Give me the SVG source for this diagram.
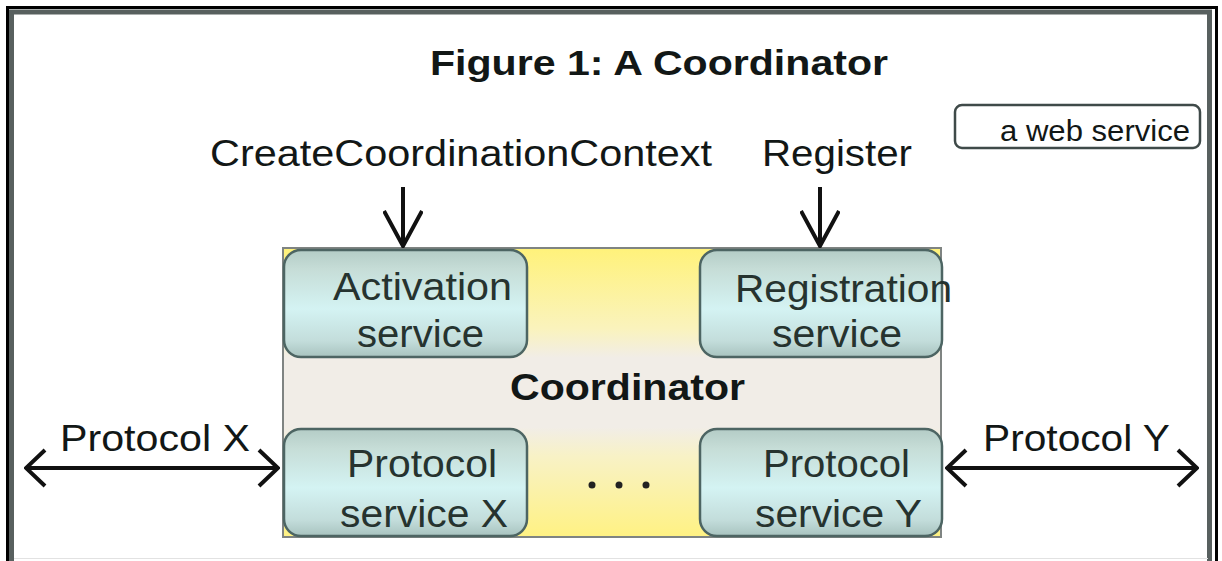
<svg xmlns="http://www.w3.org/2000/svg" width="1222" height="561" viewBox="0 0 1222 561">
  <style>
    .lbl { font-family: "Liberation Sans", Arial, sans-serif; fill: #121716; }
    .svc { font-family: "Liberation Sans", Arial, sans-serif; font-size: 38px; fill: #26332f; }
    .bold { font-weight: bold; }
    .svcbox { fill: url(#svcFill); stroke: #4d6563; stroke-width: 2.5; }
    .flow { stroke: #111; stroke-width: 4; fill: none; }
  </style>
  <defs>
    <linearGradient id="svcFill" x1="0" y1="0" x2="0" y2="1">
      <stop offset="0" stop-color="#b4ccc6"/>
      <stop offset="0.18" stop-color="#c6ddd7"/>
      <stop offset="0.55" stop-color="#d4f3f3"/>
      <stop offset="0.85" stop-color="#c3dddb"/>
      <stop offset="1" stop-color="#a8c3bf"/>
    </linearGradient>
    <linearGradient id="coordFill" x1="0" y1="0" x2="0" y2="1">
      <stop offset="0" stop-color="#fff27a"/>
      <stop offset="0.28" stop-color="#faf3bd"/>
      <stop offset="0.38" stop-color="#f1ede7"/>
      <stop offset="0.62" stop-color="#f1ede7"/>
      <stop offset="0.72" stop-color="#f8f2c6"/>
      <stop offset="1" stop-color="#fff283"/>
    </linearGradient>
    <!-- narrow open chevron for the vertical calls -->
    <marker id="headNarrow" viewBox="0 0 40 40" refX="38" refY="20" markerWidth="40" markerHeight="40" markerUnits="userSpaceOnUse" orient="auto-start-reverse">
      <path d="M3,1 L38,20 L3,39" fill="none" stroke="#111" stroke-width="4"/>
    </marker>
    <!-- wide open chevron for the protocol links -->
    <marker id="headWide" viewBox="0 0 40 40" refX="38" refY="20" markerWidth="40" markerHeight="40" markerUnits="userSpaceOnUse" orient="auto-start-reverse">
      <path d="M19,2 L38,20 L19,38" fill="none" stroke="#111" stroke-width="4"/>
    </marker>
  </defs>

  <!-- page -->
  <rect x="0" y="0" width="1222" height="561" fill="#ffffff"/>
  <!-- frame: black outline with a slate inner rule -->
  <g id="frame">
    <rect x="11.5" y="12" width="1198" height="600" fill="none" stroke="#58605f" stroke-width="5"/>
    <rect x="7.5" y="7.5" width="1209" height="600" fill="none" stroke="#000" stroke-width="3"/>
    <line x1="14" y1="558.5" x2="1208" y2="558.5" stroke="#e2e2e2" stroke-width="1"/>
  </g>

  <g id="title">
    <text class="lbl bold" x="430" y="75" font-size="35" textLength="458" lengthAdjust="spacingAndGlyphs">Figure 1: A Coordinator</text>
  </g>

  <g id="legend">
    <rect x="955" y="105" width="245" height="43" rx="7" fill="#fff" stroke="#3f4a49" stroke-width="2.5"/>
    <text class="lbl" x="1000" y="141" font-size="29" textLength="190" lengthAdjust="spacingAndGlyphs">a web service</text>
  </g>

  <g id="coordinator">
    <rect x="283" y="248" width="658" height="289" fill="url(#coordFill)" stroke="#7f8482" stroke-width="2"/>
    <text class="lbl bold" x="510" y="400" font-size="37" textLength="235" lengthAdjust="spacingAndGlyphs">Coordinator</text>
  </g>

  <g id="activation">
    <rect class="svcbox" x="284" y="250" width="243" height="107" rx="17"/>
    <text class="svc" x="333" y="300" textLength="179" lengthAdjust="spacingAndGlyphs">Activation</text>
    <text class="svc" x="357" y="347" textLength="127" lengthAdjust="spacingAndGlyphs">service</text>
  </g>

  <g id="registration">
    <rect class="svcbox" x="700" y="250" width="242" height="107" rx="17"/>
    <text class="svc" x="735" y="302" textLength="217" lengthAdjust="spacingAndGlyphs">Registration</text>
    <text class="svc" x="772" y="347" textLength="130" lengthAdjust="spacingAndGlyphs">service</text>
  </g>

  <g id="protocolX">
    <rect class="svcbox" x="284" y="429" width="243" height="107" rx="17"/>
    <text class="svc" x="347" y="477" textLength="150" lengthAdjust="spacingAndGlyphs">Protocol</text>
    <text class="svc" x="340" y="527" textLength="168" lengthAdjust="spacingAndGlyphs">service X</text>
  </g>

  <g id="protocolY">
    <rect class="svcbox" x="700" y="429" width="242" height="107" rx="17"/>
    <text class="svc" x="763" y="477" textLength="147" lengthAdjust="spacingAndGlyphs">Protocol</text>
    <text class="svc" x="755" y="527" textLength="167" lengthAdjust="spacingAndGlyphs">service Y</text>
  </g>

  <g id="more">
    <circle cx="592" cy="485" r="3.5" fill="#222"/>
    <circle cx="619" cy="485" r="3.5" fill="#222"/>
    <circle cx="646" cy="485" r="3.5" fill="#222"/>
  </g>

  <g id="connectors">
    <line class="flow" x1="403" y1="187" x2="403" y2="246" marker-end="url(#headNarrow)"/>
    <line class="flow" x1="820" y1="187" x2="820" y2="246" marker-end="url(#headNarrow)"/>
    <line class="flow" x1="26" y1="468" x2="278" y2="468" marker-start="url(#headWide)" marker-end="url(#headWide)"/>
    <line class="flow" x1="947" y1="468" x2="1197" y2="468" marker-start="url(#headWide)" marker-end="url(#headWide)"/>
    <text class="lbl" x="210" y="166" font-size="37" textLength="502" lengthAdjust="spacingAndGlyphs">CreateCoordinationContext</text>
    <text class="lbl" x="762" y="166" font-size="37" textLength="150" lengthAdjust="spacingAndGlyphs">Register</text>
    <text class="lbl" x="60" y="451" font-size="37" textLength="190" lengthAdjust="spacingAndGlyphs">Protocol X</text>
    <text class="lbl" x="983" y="451" font-size="37" textLength="187" lengthAdjust="spacingAndGlyphs">Protocol Y</text>
  </g>
</svg>
